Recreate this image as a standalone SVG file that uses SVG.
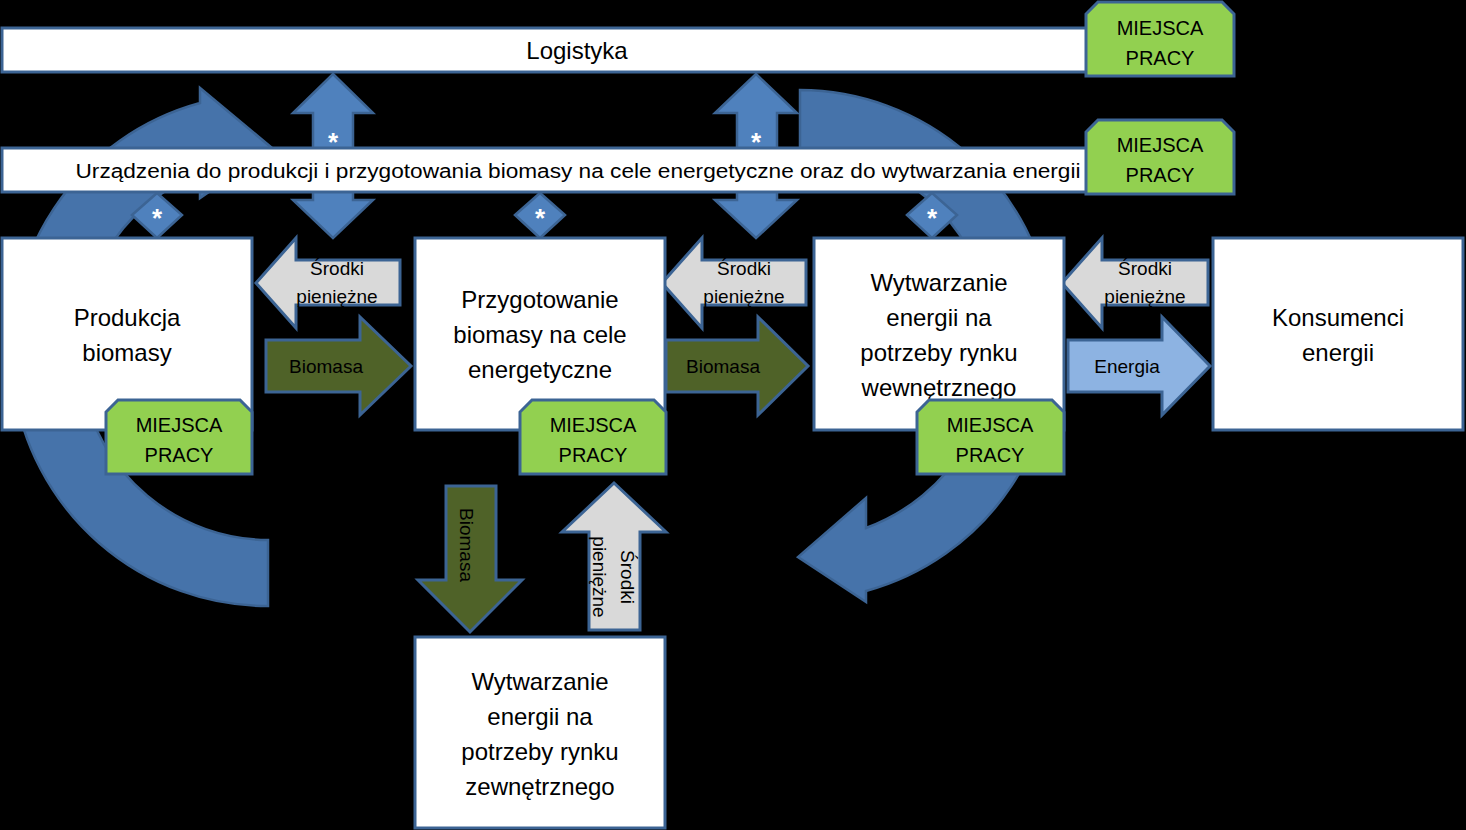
<svg xmlns="http://www.w3.org/2000/svg" width="1466" height="830" viewBox="0 0 1466 830">
<style>
text{font-family:"Liberation Sans",Arial,sans-serif;fill:#000;text-anchor:middle}
.box{fill:#fff;stroke:#3c6494;stroke-width:3}
.job{fill:#92d050;stroke:#3c6494;stroke-width:3}
.blue{fill:#4f81bd;stroke:#3c6494;stroke-width:2.5}
.grey{fill:#d9d9d9;stroke:#3c6494;stroke-width:3}
.green{fill:#4f6228;stroke:#3c6494;stroke-width:3}
.lb{fill:#8db3e2;stroke:#3c6494;stroke-width:3}
.t24{font-size:24px}
.t20{font-size:20px}
.t19{font-size:19px}
.ast{font-size:26px;fill:#fff;font-weight:bold}
</style>
<rect width="1466" height="830" fill="#000"/>
<g id="cycles">
<path class="blue" style="fill:#4673aa" d="M268,606 A256,256 0 0 1 200,103 L200,88 L272,148 L200,198 L200,173 A190,190 0 0 0 268,540 Z"/>
<path class="blue" style="fill:#4673aa" d="M800,90 A255,255 0 0 1 866,591 L866,602 L798,557 L866,498 L866,528 A195,195 0 0 0 800,150 Z"/>
</g>
<g id="connectors">
<path class="blue" d="M333,74 L373,113 L353,113 L353,200 L373,200 L333,238 L293,200 L313,200 L313,113 L293,113 Z"/>
<text class="ast" x="333" y="151">*</text>
<path class="blue" d="M756,74 L797,113 L777,113 L777,200 L797,200 L756,238 L715,200 L737,200 L737,113 L715,113 Z"/>
<text class="ast" x="756" y="151">*</text>
<path class="grey" d="M256,283 L296,238 L296,260 L400,260 L400,305 L296,305 L296,328 Z"/>
<path class="green" d="M266,340 L360,340 L360,317 L411,366 L360,415 L360,392 L266,392 Z"/>
<path class="grey" d="M662,283 L702,238 L702,260 L806,260 L806,305 L702,305 L702,328 Z"/>
<path class="green" d="M666,340 L758,340 L758,317 L808,366 L758,415 L758,392 L666,392 Z"/>
<path class="grey" d="M1062,283 L1102,238 L1102,260 L1208,260 L1208,305 L1102,305 L1102,328 Z"/>
<path class="lb" d="M1068,340 L1162,340 L1162,317 L1210,366 L1162,415 L1162,392 L1068,392 Z"/>
<path class="green" d="M446,486 L496,486 L496,580 L522,580 L470,632 L418,580 L446,580 Z"/>
<path class="grey" d="M589,630 L640,630 L640,532 L666,532 L614,483 L562,532 L589,532 Z"/>
<text class="t19" x="337" y="275">Środki</text>
<text class="t19" x="337" y="303">pieniężne</text>
<text class="t19" x="326" y="373">Biomasa</text>
<text class="t19" x="744" y="275">Środki</text>
<text class="t19" x="744" y="303">pieniężne</text>
<text class="t19" x="723" y="373">Biomasa</text>
<text class="t19" x="1145" y="275">Środki</text>
<text class="t19" x="1145" y="303">pieniężne</text>
<text class="t19" x="1127" y="373">Energia</text>
<text class="t19" transform="translate(467,545) rotate(90)" y="7">Biomasa</text>
<text class="t19" transform="translate(614,577) rotate(90)" y="-7">Środki</text>
<text class="t19" transform="translate(614,577) rotate(90)" y="21">pieniężne</text>
</g>
<g id="logistyka">
<rect class="box" x="2" y="28" width="1090" height="44"/>
<text class="t24" x="577" y="59">Logistyka</text>
</g>
<g id="urzadzenia">
<rect class="box" x="2" y="148" width="1090" height="44"/>
<text class="t20" x="578" y="178" textLength="1005" lengthAdjust="spacingAndGlyphs">Urządzenia do produkcji i przygotowania biomasy na cele energetyczne oraz do wytwarzania energii</text>
</g>
<g id="diamonds">
<path class="blue" d="M132,215 L157,193 L182,215 L157,238 Z"/><text class="ast" x="157" y="227">*</text>
<path class="blue" d="M515,215 L540,193 L565,215 L540,238 Z"/><text class="ast" x="540" y="227">*</text>
<path class="blue" d="M907,215 L932,193 L957,215 L932,238 Z"/><text class="ast" x="932" y="227">*</text>
</g>
<g id="mp1"><path class="job" d="M1086,76 L1086,14 L1098,2 L1222,2 L1234,14 L1234,76 Z"/><text class="t20" x="1160" y="35">MIEJSCA</text><text class="t20" x="1160" y="65">PRACY</text></g>
<g id="mp2"><path class="job" d="M1086,194 L1086,132 L1098,120 L1222,120 L1234,132 L1234,194 Z"/><text class="t20" x="1160" y="152">MIEJSCA</text><text class="t20" x="1160" y="182">PRACY</text></g>
<g id="produkcja"><rect class="box" x="2" y="238" width="250" height="192"/><text class="t24" x="127" y="326">Produkcja</text><text class="t24" x="127" y="361">biomasy</text></g>
<g id="przygotowanie"><rect class="box" x="415" y="238" width="250" height="192"/><text class="t24" x="540" y="308">Przygotowanie</text><text class="t24" x="540" y="343">biomasy na cele</text><text class="t24" x="540" y="378">energetyczne</text></g>
<g id="wytwarzanie-wew"><rect class="box" x="814" y="238" width="250" height="192"/><text class="t24" x="939" y="291">Wytwarzanie</text><text class="t24" x="939" y="326">energii na</text><text class="t24" x="939" y="361">potrzeby rynku</text><text class="t24" x="939" y="396">wewnętrznego</text></g>
<g id="konsumenci"><rect class="box" x="1213" y="238" width="250" height="192"/><text class="t24" x="1338" y="326">Konsumenci</text><text class="t24" x="1338" y="361">energii</text></g>
<g id="wytwarzanie-zew"><rect class="box" x="415" y="637" width="250" height="191"/><text class="t24" x="540" y="690">Wytwarzanie</text><text class="t24" x="540" y="725">energii na</text><text class="t24" x="540" y="760">potrzeby rynku</text><text class="t24" x="540" y="795">zewnętrznego</text></g>
<g id="mp3"><path class="job" d="M106,474 L106,412 L118,400 L240,400 L252,412 L252,474 Z"/><text class="t20" x="179" y="432">MIEJSCA</text><text class="t20" x="179" y="462">PRACY</text></g>
<g id="mp4"><path class="job" d="M520,474 L520,412 L532,400 L654,400 L666,412 L666,474 Z"/><text class="t20" x="593" y="432">MIEJSCA</text><text class="t20" x="593" y="462">PRACY</text></g>
<g id="mp5"><path class="job" d="M917,474 L917,412 L929,400 L1052,400 L1064,412 L1064,474 Z"/><text class="t20" x="990" y="432">MIEJSCA</text><text class="t20" x="990" y="462">PRACY</text></g>
</svg>
